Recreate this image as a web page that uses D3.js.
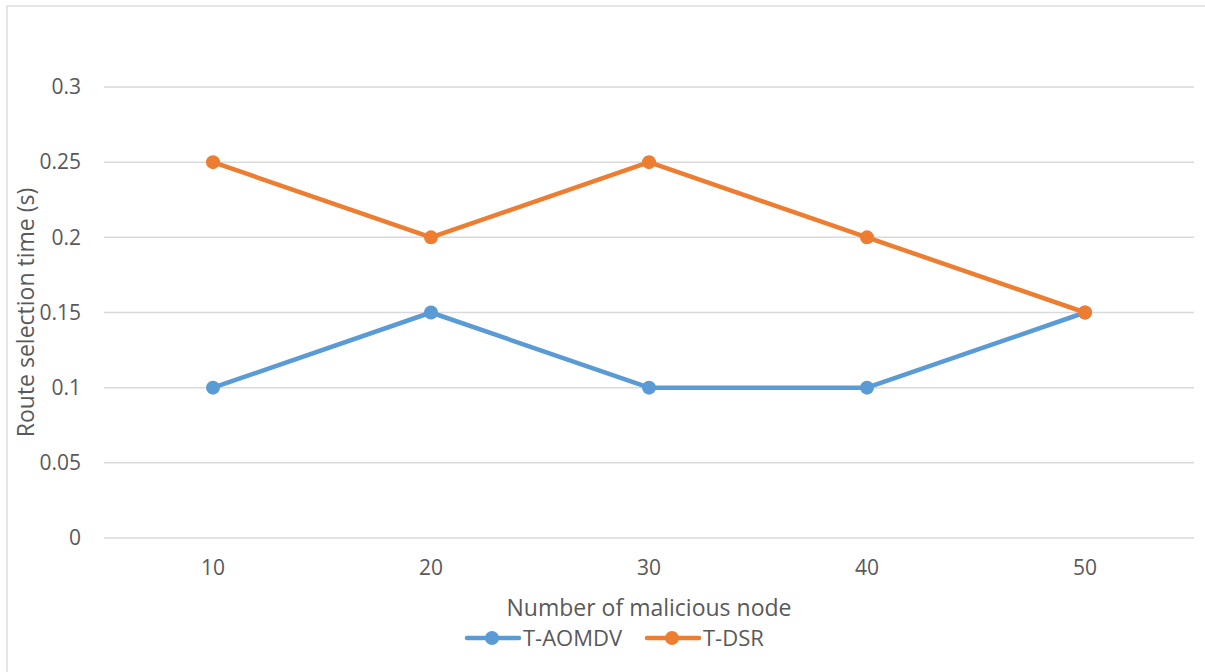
<!DOCTYPE html>
<html>
<head>
<meta charset="utf-8">
<script src="https://cdnjs.cloudflare.com/ajax/libs/d3/7.8.5/d3.min.js"></script>
<style>
  body { margin: 0; background: #fff; }
  text { font-family: "Open Sans", "Noto Sans", sans-serif; fill: #595959; }
  .axis text { font-size: 21px; }
</style>
</head>
<body>
<div id="chart"></div>
<script>
// Data
const nodes = ["10", "20", "30", "40", "50"];
const aomdv = [0.1, 0.15, 0.1, 0.1, 0.15];
const dsr = [0.25, 0.2, 0.25, 0.2, 0.15];
const yTicks = [0, 0.05, 0.1, 0.15, 0.2, 0.25, 0.3];
const seriesNames = ["T-AOMDV", "T-DSR"];
const colors = ["#5b9bd5", "#ed7d31"];

const W = 1205, H = 672;
const margin = {top: 87, right: 11, bottom: 134, left: 104};
const width = W - margin.left - margin.right;
const height = H - margin.top - margin.bottom;

const svg = d3.select("#chart").append("svg")
    .attr("width", W)
    .attr("height", H);

// Outer chart border
svg.append("rect")
    .attr("x", 7).attr("y", 6)
    .attr("width", W + 10).attr("height", H + 10)
    .attr("fill", "none")
    .attr("stroke", "#d9d9d9")
    .attr("stroke-width", 1.3);

const g = svg.append("g")
    .attr("transform", `translate(${margin.left},${margin.top})`);

const x = d3.scaleBand().domain(nodes).range([0, width]);
const y = d3.scaleLinear().domain([0, 0.3]).range([height, 0]);

// Gridlines
g.selectAll(".grid")
    .data(yTicks)
    .enter().append("line")
    .attr("class", "grid")
    .attr("x1", 0).attr("x2", width)
    .attr("y1", d => y(d)).attr("y2", d => y(d))
    .attr("stroke", "#d9d9d9")
    .attr("stroke-width", 1.5);

// Y axis labels
const yAxis = d3.axisLeft(y).tickValues(yTicks).tickSize(0).tickPadding(23)
    .tickFormat(d => String(+d.toFixed(2)));
const yG = g.append("g").attr("class", "y-axis axis").call(yAxis);
yG.select(".domain").remove();
yG.attr("font-size", null).attr("font-family", null);

// X axis labels
const xAxis = d3.axisBottom(x).tickSize(0).tickPadding(22);
const xG = g.append("g").attr("class", "x-axis axis")
    .attr("transform", `translate(0,${height})`)
    .call(xAxis);
xG.select(".domain").remove();
xG.attr("font-size", null).attr("font-family", null);

// Lines and markers
const cx = d => x(d) + x.bandwidth() / 2;
const line = d3.line().x((d, i) => cx(nodes[i])).y(d => y(d));

[aomdv, dsr].forEach((vals, s) => {
    g.append("path")
        .datum(vals)
        .attr("d", line)
        .attr("fill", "none")
        .attr("stroke", colors[s])
        .attr("stroke-width", 4.5)
        .attr("stroke-linejoin", "round")
        .attr("stroke-linecap", "round");
    g.selectAll(".pt" + s)
        .data(vals)
        .enter().append("circle")
        .attr("class", "pt" + s)
        .attr("cx", (d, i) => cx(nodes[i]))
        .attr("cy", d => y(d))
        .attr("r", 7)
        .attr("fill", colors[s]);
});

// Axis titles
svg.append("text")
    .attr("x", margin.left + width / 2)
    .attr("y", 616)
    .attr("text-anchor", "middle")
    .style("font-size", "23px")
    .text("Number of malicious node");

svg.append("text")
    .attr("transform", `translate(34,${margin.top + height / 2}) rotate(-90)`)
    .attr("text-anchor", "middle")
    .style("font-size", "23px")
    .text("Route selection time (s)");

// Legend
const legendX = [465, 645];
const legend = svg.selectAll(".legend")
    .data(seriesNames)
    .enter().append("g")
    .attr("class", "legend")
    .attr("transform", (d, i) => `translate(${legendX[i]},638)`);
legend.append("line")
    .attr("x1", 2).attr("x2", 54)
    .attr("stroke", (d, i) => colors[i])
    .attr("stroke-width", 4.5)
    .attr("stroke-linecap", "round");
legend.append("circle")
    .attr("cx", 27).attr("r", 7)
    .attr("fill", (d, i) => colors[i]);
legend.append("text")
    .attr("x", 58).attr("y", 7.5)
    .style("font-size", "22px")
    .text(d => d);
</script>
</body>
</html>
